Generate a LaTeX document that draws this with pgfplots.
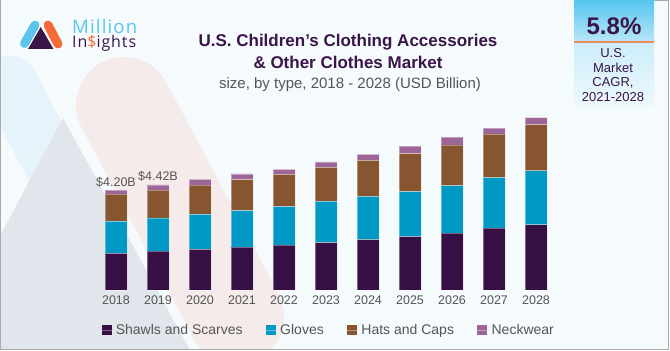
\documentclass[border=0pt]{standalone}
\usepackage{fontspec}
\setmainfont{Liberation Sans}
\newfontfamily\logofont{Open Sans}[LetterSpace=6]
\usepackage{pgfplots}
\pgfplotsset{compat=1.18}
\definecolor{bg}{HTML}{F5FAFD}
\definecolor{bandblue}{HTML}{E6F3FA}
\definecolor{tri}{HTML}{E1E5EC}
\definecolor{bandpink}{HTML}{F6EBEB}
\definecolor{framec}{HTML}{A9A9A9}
\definecolor{titlec}{HTML}{3A1648}
\definecolor{subc}{HTML}{555555}
\definecolor{shawl}{HTML}{360F45}
\definecolor{glove}{HTML}{0098C4}
\definecolor{hat}{HTML}{87552F}
\definecolor{neck}{HTML}{9D6699}
\definecolor{logoblue}{HTML}{5BC5EE}
\definecolor{logoorange}{HTML}{F26B38}
\definecolor{logopurple}{HTML}{3A1648}
\definecolor{cagrtop}{HTML}{56C5EF}
\definecolor{cagrmid}{HTML}{B9E6F8}
\definecolor{cagrlow}{HTML}{CBEDFA}
\definecolor{cagrbot}{HTML}{EEF8FD}
\definecolor{cagrline}{HTML}{F08A5D}
\begin{document}
\begin{tikzpicture}
\useasboundingbox (0bp,0bp) rectangle (670bp,351bp);
\fill[white] (0bp,0bp) rectangle (670bp,351bp);
\begin{scope}[shift={(0bp,351bp)},x=1bp,y=-1bp]
  \begin{scope}
    \clip (0.5,0) rectangle (668.5,349.5);
    \fill[bg] (0,0) rectangle (670,351);
    \draw[bandblue,line width=56bp,line cap=round] (10,84) -- (60,180);
    \fill[tri] (63,118) -- (191,352) -- (-62,352) -- cycle;
    \draw[bandpink,line width=96bp,line cap=round] (124,105) -- (236,316);
  \end{scope}
  \draw[framec,line width=1bp] (0.5,0) -- (0.5,349.5) -- (668.5,349.5) -- (668.5,0.5) -- (654,0.5);
  % CAGR box
  \shade[top color=cagrtop,bottom color=cagrmid] (574,0) rectangle (654,42);
  \shade[top color=cagrlow,bottom color=cagrbot] (574,42) rectangle (654,106);
  \draw[cagrline,line width=1.5bp] (574,42) -- (654,42);
  \node[anchor=base,inner sep=0,font=\bfseries\fontsize{24bp}{28bp}\selectfont,text=titlec] at (614,35) {5.8\%};
  \begin{scope}[every node/.style={anchor=base,inner sep=0,font=\fontsize{13bp}{15bp}\selectfont,text=titlec}]
    \node at (613,57.5) {U.S.};
    \node at (613,72.5) {Market};
    \node at (613,87) {CAGR,};
    \node at (613,101.5) {2021-2028};
  \end{scope}
  % logo
  \fill[logopurple] (40.7,27) -- (28,49) -- (53.5,49) -- cycle;
  \draw[white,line width=11bp,line cap=round] (35,25) -- (24.5,43.5);
  \draw[logoblue,line width=9bp,line cap=round] (35,25) -- (24.5,43.5);
  \draw[white,line width=11bp,line cap=round] (48,25) -- (58,44);
  \draw[logoorange,line width=9bp,line cap=round] (48,25) -- (58,44);
  \node[anchor=base west,inner sep=0,text=logoblue] at (72,33.5) {\resizebox{65bp}{!}{\logofont\fontsize{16bp}{16bp}\selectfont Million}};
  \node[anchor=base west,inner sep=0,text=logopurple] at (72,48) {\resizebox{64bp}{!}{\logofont\fontsize{16bp}{16bp}\selectfont In\textcolor{logoorange}{\$}ights}};
  % titles
  \node[anchor=base,inner sep=0,font=\bfseries\fontsize{17bp}{20bp}\selectfont,text=titlec] at (348,47) {U.S. Children’s Clothing Accessories};
  \node[anchor=base,inner sep=0,font=\bfseries\fontsize{17bp}{20bp}\selectfont,text=titlec] at (348,68.5) {\& Other Clothes Market};
  \node[anchor=base,inner sep=0,font=\fontsize{15bp}{18bp}\selectfont,text=subc] at (350,89) {size, by type, 2018 - 2028 (USD Billion)};
\end{scope}
\begin{axis}[
  at={(95bp,61bp)}, anchor=south west,
  scale only axis, width=462bp, height=190.4bp,
  xmin=-0.5, xmax=10.5, ymin=0, ymax=8,
  ybar stacked, bar width=22bp,
  axis line style={draw=none}, tick style={draw=none},
  ytick=\empty,
  xtick={0,...,10},
  xticklabels={2018,2019,2020,2021,2022,2023,2024,2025,2026,2027,2028},
  xticklabel style={font=\fontsize{12.5bp}{14bp}\selectfont, text=subc, anchor=base, yshift=-15bp},
  legend columns=4,
  legend style={draw=none, fill=none, at={(axis description cs:0.013,-0.21)}, anchor=west,
    font=\fontsize{14bp}{16bp}\selectfont, text=subc,
    /tikz/every even column/.append style={column sep=21bp},
    inner sep=0pt, nodes={inner sep=2bp}},
  legend image code/.code={\path[#1,draw=none] (0bp,-5bp) rectangle (10bp,5bp); \path (0bp,0bp) -- (12bp,0bp);},
  every axis plot/.append style={draw=white, draw opacity=0.35, line width=0.6bp},
  clip=false,
]
\addplot[fill=shawl] coordinates {(0,1.54) (1,1.63) (2,1.71) (3,1.80) (4,1.89) (5,1.99) (6,2.12) (7,2.24) (8,2.39) (9,2.60) (10,2.74)};
\addplot[fill=glove] coordinates {(0,1.34) (1,1.40) (2,1.47) (3,1.54) (4,1.61) (5,1.73) (6,1.81) (7,1.89) (8,2.00) (9,2.12) (10,2.27)};
\addplot[fill=hat] coordinates {(0,1.15) (1,1.17) (2,1.23) (3,1.30) (4,1.36) (5,1.43) (6,1.52) (7,1.60) (8,1.71) (9,1.84) (10,1.94)};
\addplot[fill=neck] coordinates {(0,0.17) (1,0.22) (2,0.24) (3,0.24) (4,0.21) (5,0.23) (6,0.25) (7,0.32) (8,0.32) (9,0.24) (10,0.29)};
\legend{Shawls and Scarves, Gloves, Hats and Caps, Neckwear}
\node[anchor=base,inner sep=0,font=\fontsize{12.5bp}{14bp}\selectfont,text=subc] at (axis cs:0,4.368) {\$4.20B};
\node[anchor=base,inner sep=0,font=\fontsize{12.5bp}{14bp}\selectfont,text=subc] at (axis cs:1,4.588) {\$4.42B};
\end{axis}
\end{tikzpicture}
\end{document}
